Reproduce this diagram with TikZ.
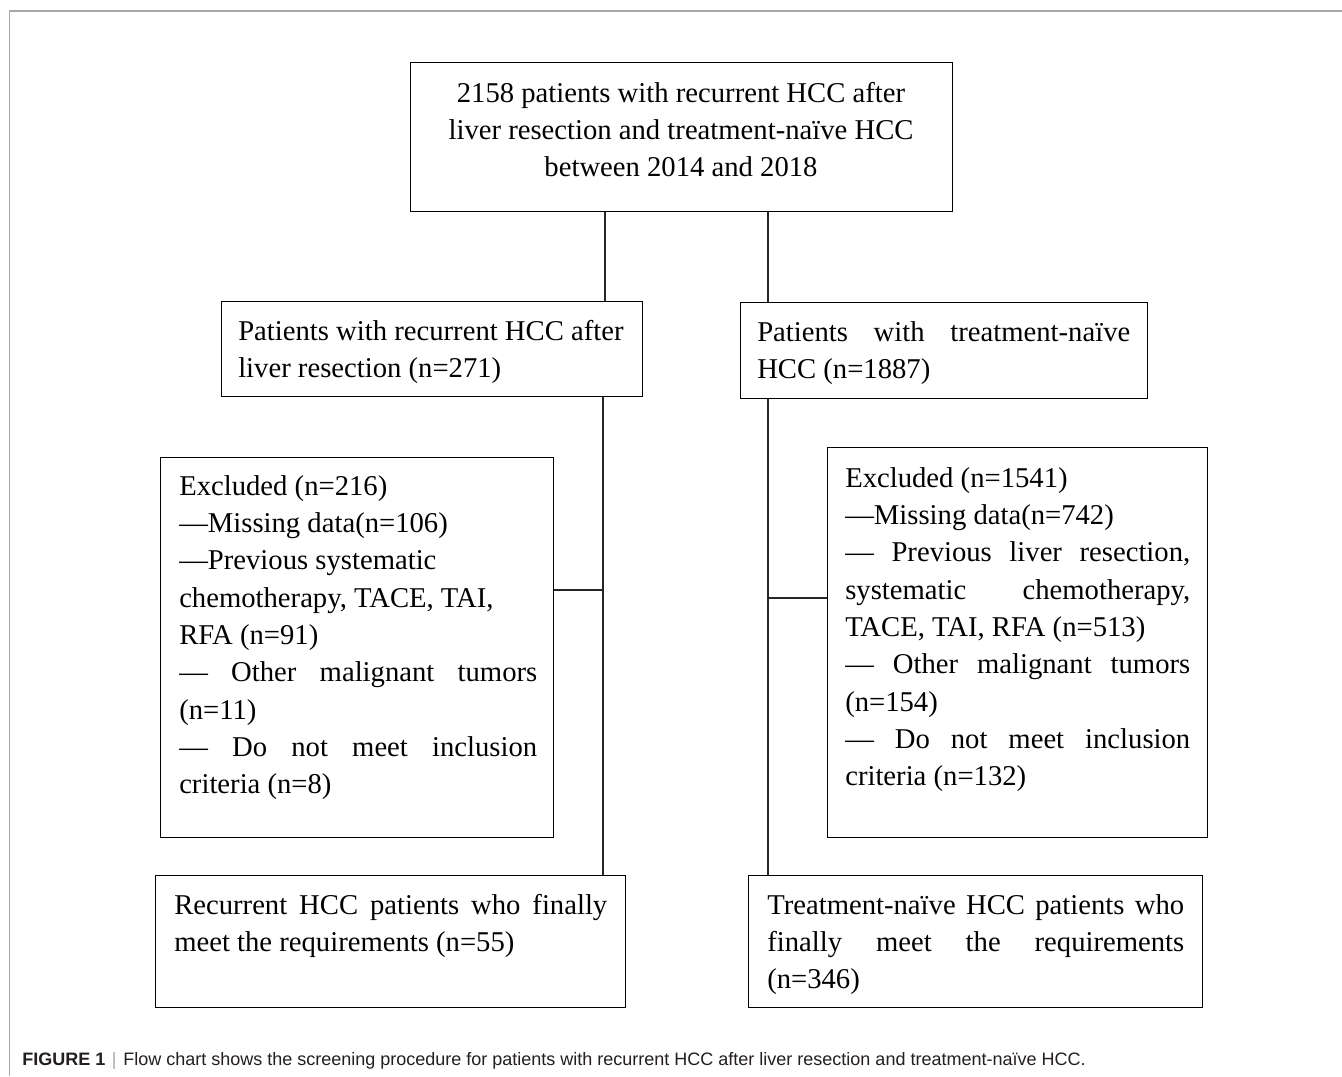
\documentclass[tikz,border=0pt]{standalone}
\usepackage{fontspec}
\setmainfont{Liberation Serif}
\newfontfamily\capfont{Liberation Sans}
\newcommand\jline[1]{\makebox[\linewidth][s]{#1}}
\definecolor{framegray}{HTML}{A8A8A8}
\definecolor{captext}{HTML}{231F20}
\begin{document}
\begin{tikzpicture}[x=0.75pt,y=-0.75pt,
  pbox/.style 2 args={draw=black, line width=1pt, anchor=north west, inner sep=0pt,
    minimum width=#1*0.75pt, minimum height=#2*0.75pt},
  txt/.style={inner sep=0pt, font=\fontsize{21.5}{28}\selectfont},
  conn/.style={draw=black!85, line width=1pt}
]
\useasboundingbox (0,0) rectangle (1342,1076);
\fill[white] (0,0) rectangle (1342,1076);
\draw[framegray, line width=1.1pt] (9.5,1076) -- (9.5,11) -- (1342,11);

% boxes
\node (top)  [pbox={542}{149}] at (410,62) {};
\node (lmid) [pbox={421}{95}]  at (221,301) {};
\node (rmid) [pbox={407}{96}]  at (740,302) {};
\node (lex)  [pbox={393}{380}] at (160,457) {};
\node (rex)  [pbox={380}{390}] at (827,447) {};
\node (lbot) [pbox={470}{132}] at (155,875) {};
\node (rbot) [pbox={454}{132}] at (748,875) {};

% texts
\node (ttop) [txt, anchor=base] at (681,102) {\parbox[t]{510\dimexpr0.75pt}{\centering
2158 patients with recurrent HCC after\\
liver resection and treatment-naïve HCC\\
between 2014 and 2018}};
\node (tlmid) [txt, anchor=base west] at (238,340) {\parbox[t]{400\dimexpr0.75pt}{%
Patients with recurrent HCC after\\
liver resection (n=271)}};
\node (trmid) [txt, anchor=base west] at (757,341) {\parbox[t]{373\dimexpr0.75pt}{%
\jline{Patients with treatment-naïve}\\
HCC (n=1887)}};
\node (tlex) [txt, anchor=base west] at (179,495) {\parbox[t]{358\dimexpr0.75pt}{%
Excluded (n=216)\\
—Missing data(n=106)\\
—Previous systematic\\
chemotherapy, TACE, TAI,\\
RFA (n=91)\\
\jline{— Other malignant tumors}\\
(n=11)\\
\jline{— Do not meet inclusion}\\
criteria (n=8)}};
\node (trex) [txt, anchor=base west] at (845,487) {\parbox[t]{345\dimexpr0.75pt}{%
Excluded (n=1541)\\
—Missing data(n=742)\\
\jline{— Previous liver resection,}\\
\jline{systematic chemotherapy,}\\
TACE, TAI, RFA (n=513)\\
\jline{— Other malignant tumors}\\
(n=154)\\
\jline{— Do not meet inclusion}\\
criteria (n=132)}};
\node (tlbot) [txt, anchor=base west] at (174,914) {\parbox[t]{433\dimexpr0.75pt}{%
\jline{Recurrent HCC patients who finally}\\
meet the requirements (n=55)}};
\node (trbot) [txt, anchor=base west] at (767,914) {\parbox[t]{417\dimexpr0.75pt}{%
\jline{Treatment-naïve HCC patients who}\\
\jline{finally meet the requirements}\\
(n=346)}};

% connectors
\coordinate (cL) at (605,0);
\coordinate (sL) at (603,0);
\coordinate (sR) at (768,0);
\coordinate (hL) at (0,590);
\coordinate (hR) at (0,598);
\draw[conn] (top.south -| cL) -- (lmid.north -| cL);
\draw[conn] (top.south -| sR) -- (rmid.north -| sR);
\draw[conn] (lmid.south -| sL) -- (lbot.north -| sL);
\draw[conn] (rmid.south -| sR) -- (rbot.north -| sR);
\draw[conn] (lex.east |- hL) -- (sL |- hL);
\draw[conn] (sR |- hR) -- (rex.west |- hR);

% caption
\node (cap) [inner sep=0pt, anchor=base west, text=captext,
  font=\capfont\fontsize{13.5}{16}\selectfont] at (22,1065)
  {\textbf{FIGURE 1}\hspace{5pt}{\color{framegray}|}\hspace{5pt}Flow chart shows the screening procedure for patients with recurrent HCC after liver resection and treatment-naïve HCC.};
\end{tikzpicture}
\end{document}
